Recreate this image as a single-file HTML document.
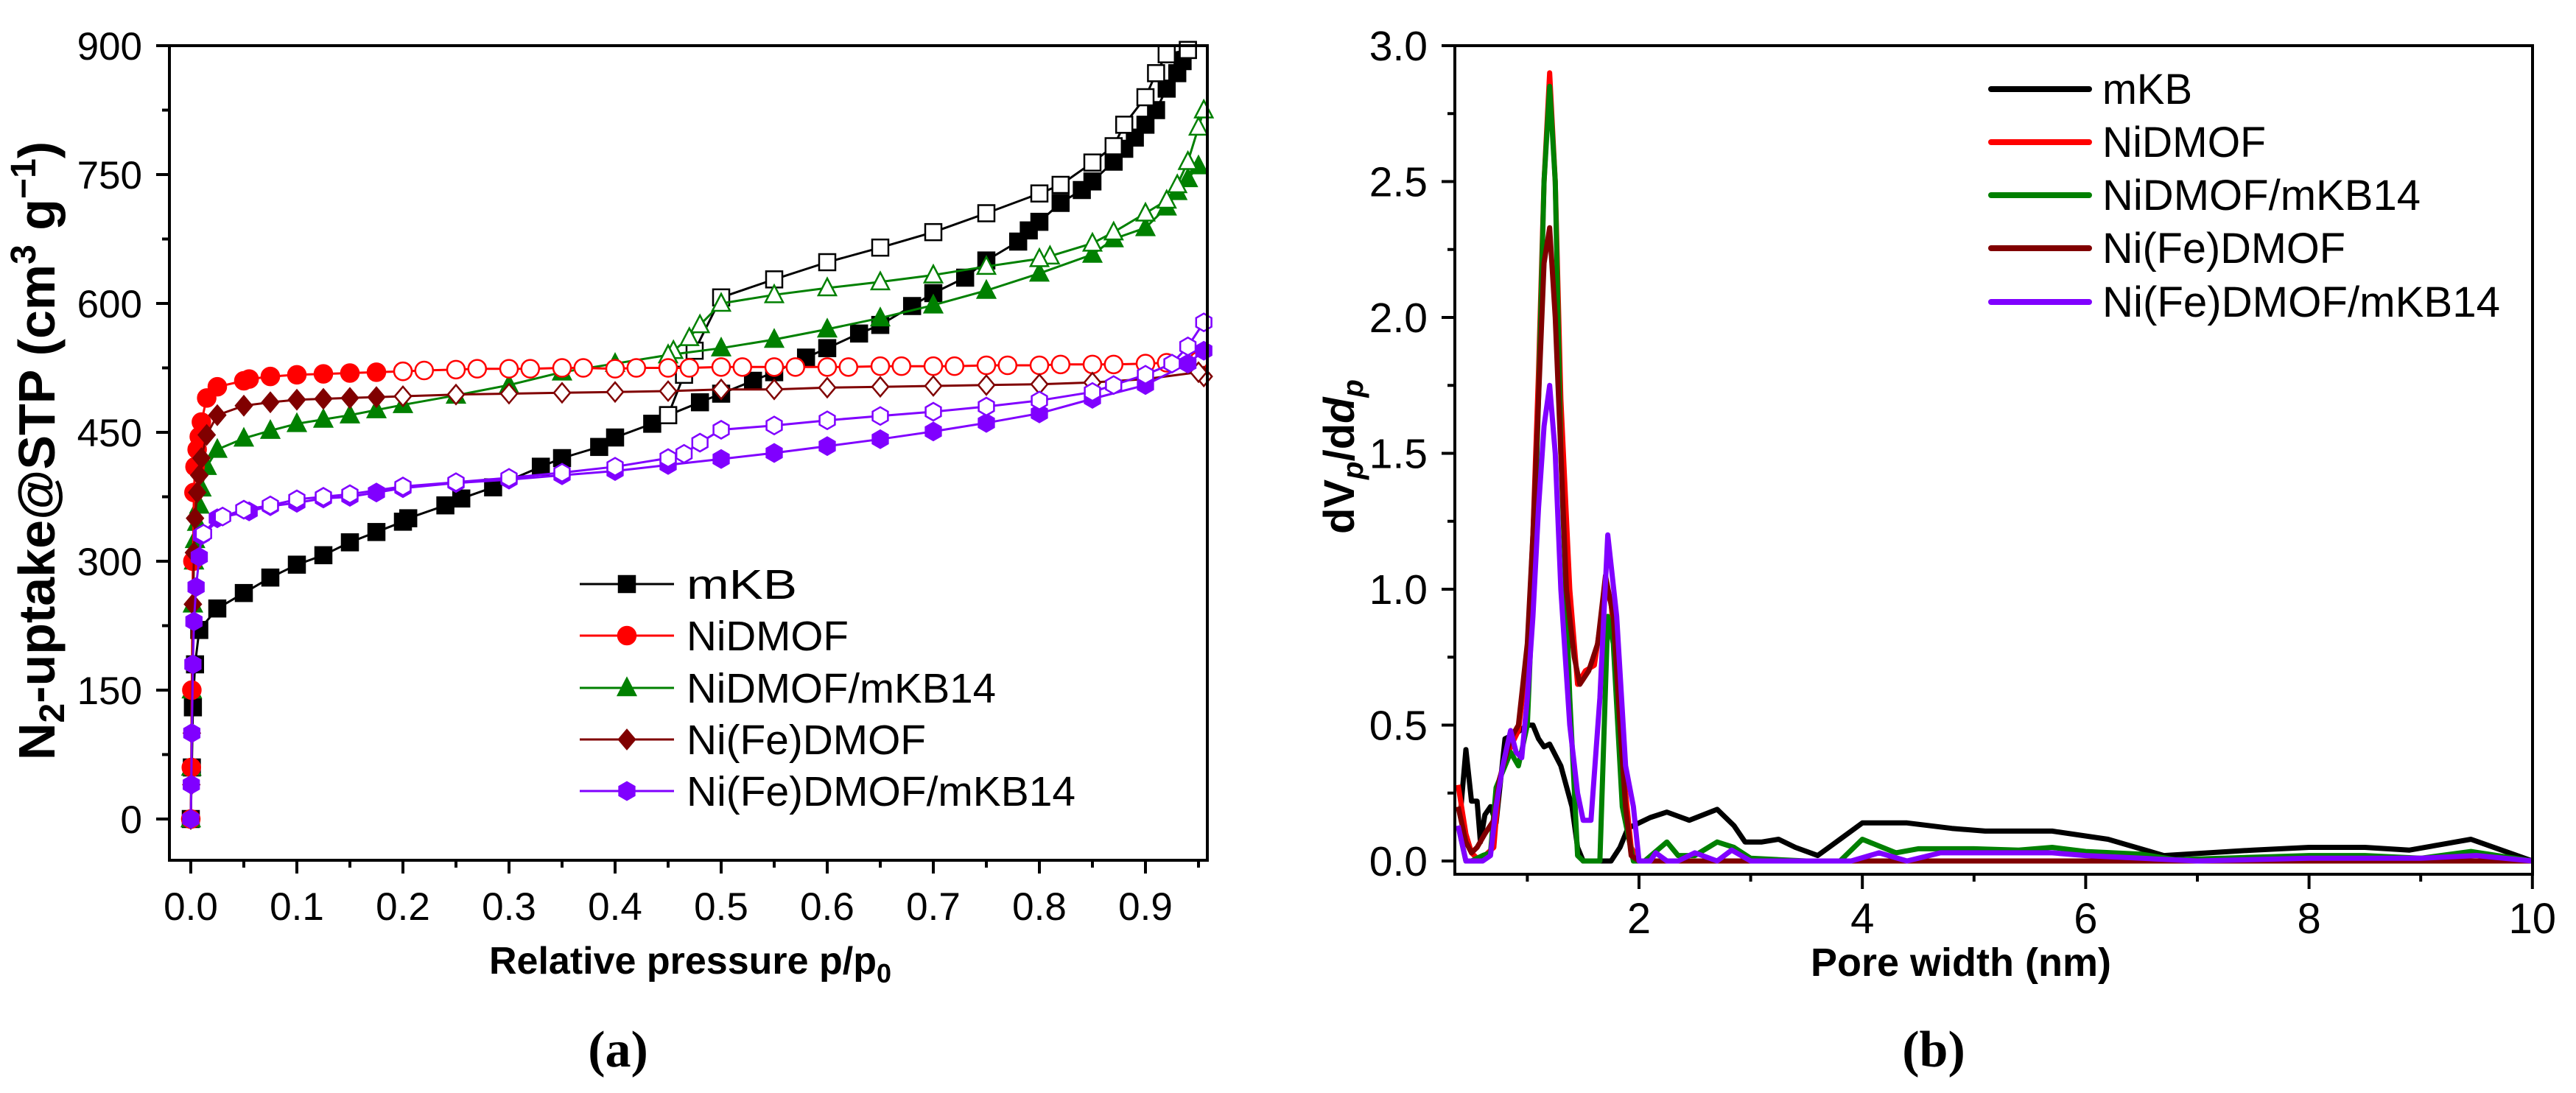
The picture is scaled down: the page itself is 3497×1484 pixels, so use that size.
<!DOCTYPE html>
<html><head><meta charset="utf-8"><style>
html,body{margin:0;padding:0;background:#fff}
svg{display:block}
text{font-family:"Liberation Sans",sans-serif}
</style></head><body>
<svg id="fig" width="3497" height="1484" viewBox="0 0 3497 1484" xmlns="http://www.w3.org/2000/svg">
<g id="pa"></g>
<g id="pb"></g>
<text x="839" y="1448" style="font-family:'Liberation Serif',serif" font-weight="bold" font-size="70" text-anchor="middle">(a)</text>
<text x="2625" y="1448" style="font-family:'Liberation Serif',serif" font-weight="bold" font-size="70" text-anchor="middle">(b)</text>
</svg>
<script>
// ---------- Panel (a) data ----------
const seriesNames = ["mKB","NiDMOF","NiDMOF/mKB14","Ni(Fe)DMOF","Ni(Fe)DMOF/mKB14"];
const seriesColors = ["#000000","#ff0000","#008000","#800000","#8000ff"];
const xTicksA = [0,0.1,0.2,0.3,0.4,0.5,0.6,0.7,0.8,0.9];
const xTickLabelsA = ["0.0","0.1","0.2","0.3","0.4","0.5","0.6","0.7","0.8","0.9"];
const yTicksA = [0,150,300,450,600,750,900];
const yTickLabelsA = ["0","150","300","450","600","750","900"];

const mkbAdsP = [0,0.001,0.002,0.004,0.008,0.025,0.05,0.075,0.1,0.125,0.15,0.175,0.2,0.205,0.24,0.255,0.285,0.33,0.35,0.385,0.4,0.435,0.45,0.48,0.5,0.53,0.55,0.58,0.6,0.63,0.65,0.68,0.7,0.73,0.75,0.78,0.79,0.8,0.82,0.84,0.85,0.87,0.88,0.89,0.9,0.91,0.92,0.93,0.935,0.94];
const mkbAdsV = [0,60,130,180,220,245,263,281,296,307,322,334,346,350,365,373,386,410,420,433,444,460,470,485,495,510,520,537,548,565,575,597,612,630,650,672,685,695,717,732,742,765,780,793,808,825,850,868,882,895];
const mkbDesP = [0.94,0.92,0.91,0.9,0.88,0.87,0.85,0.82,0.8,0.75,0.7,0.65,0.6,0.55,0.5,0.475,0.465,0.45];
const mkbDesV = [895,890,868,840,808,783,764,738,728,705,683,665,648,628,607,545,517,470];

const niAdsP = [0,0.0005,0.001,0.002,0.003,0.004,0.006,0.008,0.01,0.015,0.025,0.05,0.055,0.075,0.1,0.125,0.15,0.175,0.2];
const niAdsV = [0,60,150,300,380,410,430,445,462,490,503,510,512,515,517,518,519,520,521];
const niDesP = [0.95,0.92,0.9,0.87,0.85,0.82,0.8,0.77,0.75,0.72,0.7,0.67,0.65,0.62,0.6,0.57,0.55,0.52,0.5,0.47,0.45,0.42,0.4,0.37,0.35,0.32,0.3,0.27,0.25,0.22,0.2];
const niDesV = [533,531,530,529,529,529,528,528,528,527,527,527,527,526,526,526,526,526,526,525,525,525,524,525,525,524,524,524,523,522,521];

const nimAdsP = [0,0.0005,0.001,0.002,0.003,0.004,0.006,0.008,0.01,0.015,0.025,0.05,0.075,0.1,0.125,0.15,0.175,0.2,0.25,0.3,0.35,0.4,0.45,0.5,0.55,0.6,0.65,0.7,0.75,0.8,0.85,0.87,0.9,0.92,0.93,0.94,0.95];
const nimAdsV = [0,60,150,250,300,325,345,365,385,410,430,443,452,460,465,470,476,482,493,505,520,530,540,548,558,570,583,598,615,635,657,675,688,712,730,745,760];
const nimDesP = [0.955,0.95,0.94,0.93,0.92,0.9,0.87,0.85,0.81,0.8,0.75,0.7,0.65,0.6,0.55,0.5,0.48,0.47,0.455,0.45];
const nimDesV = [825,805,765,738,720,705,683,670,655,652,643,633,625,618,610,600,575,560,545,540];

const nfAdsP = [0,0.0005,0.001,0.002,0.003,0.004,0.006,0.008,0.01,0.015,0.025,0.05,0.075,0.1,0.125,0.15,0.175,0.2];
const nfAdsV = [0,40,100,250,310,350,380,400,420,447,470,481,485,488,489,490,491,492];
const nfDesP = [0.955,0.95,0.9,0.85,0.8,0.75,0.7,0.65,0.6,0.55,0.5,0.45,0.4,0.35,0.3,0.25,0.2];
const nfDesV = [515,520,512,508,506,505,504,503,502,500,500,498,497,496,495,494,492];

const nfmAdsP = [0,0.0005,0.001,0.002,0.003,0.005,0.008,0.01,0.025,0.055,0.075,0.1,0.125,0.15,0.175,0.2,0.25,0.3,0.35,0.4,0.45,0.5,0.55,0.6,0.65,0.7,0.75,0.8,0.85,0.9,0.94,0.955];
const nfmAdsV = [0,40,100,180,230,270,305,330,350,358,364,368,373,375,380,385,391,395,400,405,412,419,426,434,442,451,461,472,489,505,530,545];
const nfmDesP = [0.955,0.94,0.925,0.9,0.87,0.85,0.8,0.75,0.7,0.65,0.6,0.55,0.5,0.48,0.465,0.45,0.4,0.35,0.3,0.25,0.2,0.15,0.125,0.1,0.075,0.05,0.03,0.012];
const nfmDesV = [578,550,530,517,505,497,487,480,474,469,464,458,453,438,425,420,410,403,397,392,387,378,375,372,365,360,352,332];

// ---------- Panel (b) data ----------
const xTicksB = [2,4,6,8,10];
const xTickLabelsB = ["2","4","6","8","10"];
const yTicksB = [0,0.5,1,1.5,2,2.5,3];
const yTickLabelsB = ["0.0","0.5","1.0","1.5","2.0","2.5","3.0"];

const psdMkbX = [0.4,0.45,0.5,0.55,0.58,0.62,0.67,0.72,0.8,0.9,1.0,1.05,1.1,1.15,1.2,1.3,1.4,1.45,1.5,1.6,1.75,1.83,1.9,2.0,2.1,2.25,2.45,2.7,2.85,2.95,3.1,3.25,3.4,3.6,3.8,4.0,4.4,4.8,5.1,5.7,6.2,6.7,7.5,8.0,8.5,8.9,9.45,10];
const psdMkbY = [0.17,0.41,0.22,0.22,0.07,0.17,0.2,0.14,0.45,0.47,0.5,0.5,0.45,0.42,0.43,0.35,0.2,0.05,0.0,0.0,0.0,0.05,0.12,0.14,0.16,0.18,0.15,0.19,0.13,0.07,0.07,0.08,0.05,0.02,0.08,0.14,0.14,0.12,0.11,0.11,0.08,0.02,0.04,0.05,0.05,0.04,0.08,0.0];
const psdNiX = [0.38,0.45,0.5,0.55,0.62,0.7,0.75,0.85,0.92,1.0,1.05,1.1,1.15,1.2,1.25,1.3,1.38,1.45,1.52,1.6,1.7,1.75,1.82,1.88,1.93,2.0,10];
const psdNiY = [0.28,0.1,0.03,0.01,0.02,0.05,0.3,0.42,0.48,0.75,1.2,1.8,2.5,2.9,2.5,1.7,1.0,0.65,0.7,0.72,1.0,0.95,0.6,0.25,0.05,0.0,0.0];
const psdNimX = [0.38,0.45,0.5,0.6,0.67,0.72,0.85,0.92,1.0,1.05,1.1,1.15,1.2,1.25,1.3,1.38,1.45,1.5,1.65,1.72,1.77,1.85,1.95,2.05,2.25,2.35,2.5,2.7,2.85,3.0,3.5,3.8,4.0,4.3,4.5,5.0,5.4,5.7,6.0,6.5,6.8,8.0,8.5,9.0,9.45,10];
const psdNimY = [0.13,0.0,0.0,0.02,0.03,0.27,0.4,0.35,0.5,1.0,1.7,2.5,2.85,2.5,1.5,0.6,0.02,0.0,0.0,0.9,0.8,0.2,0.0,0.0,0.07,0.02,0.02,0.07,0.05,0.01,0.0,0.0,0.08,0.03,0.045,0.045,0.04,0.05,0.035,0.025,0.005,0.02,0.02,0.01,0.035,0.0];
const psdNfX = [0.38,0.45,0.5,0.55,0.62,0.7,0.75,0.85,0.92,1.0,1.05,1.1,1.15,1.2,1.25,1.3,1.35,1.42,1.47,1.55,1.63,1.7,1.77,1.83,1.88,1.93,2.0,10];
const psdNfY = [0.2,0.07,0.03,0.05,0.1,0.15,0.3,0.45,0.5,0.8,1.2,1.7,2.2,2.33,2.0,1.5,1.0,0.75,0.65,0.7,0.8,1.05,0.9,0.5,0.2,0.02,0.0,0.0];
const psdNfmX = [0.38,0.45,0.6,0.67,0.72,0.78,0.85,0.9,0.95,1.0,1.05,1.1,1.15,1.2,1.25,1.3,1.38,1.45,1.5,1.57,1.65,1.72,1.8,1.88,1.95,2.0,2.1,2.15,2.25,2.35,2.5,2.7,2.83,3.0,3.9,4.15,4.4,4.7,5.3,5.7,6.0,6.5,7,8,9,9.5,10];
const psdNfmY = [0.13,0.0,0.0,0.02,0.2,0.35,0.48,0.4,0.38,0.6,0.9,1.3,1.6,1.75,1.5,1.0,0.5,0.25,0.15,0.15,0.6,1.2,0.9,0.35,0.2,0.0,0.0,0.03,0.0,0.0,0.03,0.0,0.04,0.0,0.0,0.03,0.0,0.03,0.03,0.03,0.02,0.01,0.0,0.01,0.01,0.02,0.0];

const NS = "http://www.w3.org/2000/svg";
function mk(parent, tag, attrs){const e=document.createElementNS(NS,tag);for(const k in attrs)e.setAttribute(k,attrs[k]);parent.appendChild(e);return e;}

// ---------- Panel (a) ----------
const A = {left:230,right:1639,top:62,bottom:1168};
const xA = p => 259 + p*1440;
const yA = v => 1112 - v*(1050/900);
const pa = document.getElementById('pa');

function markerA(g, shape, cx, cy, color, filled){
  const r=11; const f = filled?color:'#fff';
  let el;
  if(shape==='sq') el=mk(g,'rect',{x:cx-r,y:cy-r,width:2*r,height:2*r,fill:f,stroke:color,'stroke-width':2.5});
  else if(shape==='ci') el=mk(g,'circle',{cx:cx,cy:cy,r:r+1,fill:f,stroke:color,'stroke-width':2.5});
  else if(shape==='tr') el=mk(g,'polygon',{points:`${cx},${cy-r-2} ${cx+r+1},${cy+r-1} ${cx-r-1},${cy+r-1}`,fill:f,stroke:color,'stroke-width':2.5});
  else if(shape==='di') el=mk(g,'polygon',{points:`${cx},${cy-r-2} ${cx+r},${cy} ${cx},${cy+r+2} ${cx-r},${cy}`,fill:f,stroke:color,'stroke-width':2.5});
  else { let pts=[];for(let i=0;i<6;i++){const a=Math.PI/6+i*Math.PI/3;pts.push((cx+(r+1)*Math.cos(a)).toFixed(1)+','+(cy+(r+1)*Math.sin(a)).toFixed(1));}
    el=mk(g,'polygon',{points:pts.join(' '),fill:f,stroke:color,'stroke-width':2.5}); }
  
  
}
function drawIso(name, ps, vs, color, shape, filled){
  const g=mk(pa,'g',{});
  
  
  const d=ps.map((p,i)=>(i?'L':'M')+xA(p).toFixed(1)+','+yA(vs[i]).toFixed(1)).join(' ');
  const path=mk(g,'path',{d:d,fill:'none',stroke:color,'stroke-width':3});
  
  
  ps.forEach((p,i)=>markerA(g,shape,xA(p),yA(vs[i]),color,filled));
}
drawIso('mkb-adsorption',mkbAdsP,mkbAdsV,seriesColors[0],'sq',true);
drawIso('mkb-desorption',mkbDesP,mkbDesV,seriesColors[0],'sq',false);
drawIso('nidmof-mkb14-adsorption',nimAdsP,nimAdsV,seriesColors[2],'tr',true);
drawIso('nidmof-mkb14-desorption',nimDesP,nimDesV,seriesColors[2],'tr',false);
drawIso('nidmof-adsorption',niAdsP,niAdsV,seriesColors[1],'ci',true);
drawIso('nidmof-desorption',niDesP,niDesV,seriesColors[1],'ci',false);
drawIso('nifedmof-adsorption',nfAdsP,nfAdsV,seriesColors[3],'di',true);
drawIso('nifedmof-desorption',nfDesP,nfDesV,seriesColors[3],'di',false);
drawIso('nifedmof-mkb14-adsorption',nfmAdsP,nfmAdsV,seriesColors[4],'hx',true);
drawIso('nifedmof-mkb14-desorption',nfmDesP,nfmDesV,seriesColors[4],'hx',false);

const fa=mk(pa,'rect',{x:A.left,y:A.top,width:A.right-A.left,height:A.bottom-A.top,fill:'none',stroke:'#000','stroke-width':4});


for(let v=0;v<=900;v+=75){const major=v%150===0;mk(pa,'line',{x1:A.left,x2:A.left-(major?18:10),y1:yA(v),y2:yA(v),stroke:'#000','stroke-width':4});}
for(let i=0;i<=19;i++){const p=i*0.05;const major=i%2===0;mk(pa,'line',{x1:xA(p),x2:xA(p),y1:A.bottom,y2:A.bottom+(major?18:10),stroke:'#000','stroke-width':4});}
yTicksA.forEach((v,i)=>{const t=mk(pa,'text',{x:193,y:yA(v)+19,'font-size':53,'text-anchor':'end'});t.textContent=yTickLabelsA[i];
  
  });
xTicksA.forEach((v,i)=>{const t=mk(pa,'text',{x:xA(v),y:1249,'font-size':53,'text-anchor':'middle'});t.textContent=xTickLabelsA[i];
  
  });

// ---------- Panel (b) ----------
const B = {left:1975,right:3438,top:62,bottom:1187};
const xB = w => 1921.8 + w*151.6;
const yB = v => 1169 - v*369;
const pb = document.getElementById('pb');
const clip=mk(pb,'clipPath',{id:'clipb'});
mk(clip,'rect',{x:B.left,y:B.top,width:B.right-B.left,height:B.bottom-B.top});
function drawPsd(name,xs,ys,color){
  const d=xs.map((x,i)=>(i?'L':'M')+xB(x).toFixed(1)+','+yB(ys[i]).toFixed(1)).join(' ');
  const p=mk(pb,'path',{d:d,fill:'none',stroke:color,'stroke-width':7,'stroke-linejoin':'round','clip-path':'url(#clipb)'});
  
  
}
drawPsd('mkb-psd-line',psdMkbX,psdMkbY,seriesColors[0]);
drawPsd('nidmof-psd-line',psdNiX,psdNiY,seriesColors[1]);
drawPsd('nidmof-mkb14-psd-line',psdNimX,psdNimY,seriesColors[2]);
drawPsd('nifedmof-psd-line',psdNfX,psdNfY,seriesColors[3]);
drawPsd('nifedmof-mkb14-psd-line',psdNfmX,psdNfmY,seriesColors[4]);
const fb=mk(pb,'rect',{x:B.left,y:B.top,width:B.right-B.left,height:B.bottom-B.top,fill:'none',stroke:'#000','stroke-width':4});


for(let i=0;i<=12;i++){const v=i*0.25;const major=i%2===0;mk(pb,'line',{x1:B.left,x2:B.left-(major?18:10),y1:yB(v),y2:yB(v),stroke:'#000','stroke-width':4});}
for(let w=1;w<=10;w++){const major=w%2===0;mk(pb,'line',{x1:xB(w),x2:xB(w),y1:B.bottom,y2:B.bottom+(major?20:10),stroke:'#000','stroke-width':4});}
yTicksB.forEach((v,i)=>{const t=mk(pb,'text',{x:1938,y:yB(v)+20,'font-size':57,'text-anchor':'end'});t.textContent=yTickLabelsB[i];
  
  });
xTicksB.forEach((v,i)=>{const t=mk(pb,'text',{x:xB(v),y:1267,'font-size':58,'text-anchor':'middle'});t.textContent=xTickLabelsB[i];
  
  });

// legends
const legA=mk(pa,'g',{});


const shapesA=['sq','ci','tr','di','hx'];
const legAY=[793,863,934,1004,1074];
const legAW=[150,220,420,325,528];
seriesNames.forEach((n,i)=>{
  mk(legA,'line',{x1:787,x2:915,y1:legAY[i],y2:legAY[i],stroke:seriesColors[i],'stroke-width':3});
  markerA(legA,shapesA[i],851,legAY[i],seriesColors[i],true);
  const t=mk(legA,'text',{x:932,y:legAY[i]+20,'font-size':57,textLength:legAW[i],lengthAdjust:'spacingAndGlyphs'});t.textContent=n;
  
  
});
const legB=mk(pb,'g',{});


const legBY=[121,193,265,337,410];
const legBW=[122,222,432,330,540];
seriesNames.forEach((n,i)=>{
  mk(legB,'line',{x1:2703,x2:2836,y1:legBY[i],y2:legBY[i],stroke:seriesColors[i],'stroke-width':8,'stroke-linecap':'round'});
  const t=mk(legB,'text',{x:2854,y:legBY[i]+20,'font-size':58,textLength:legBW[i],lengthAdjust:'spacingAndGlyphs'});t.textContent=n;
  
  
});

// axis titles
(function(){
const svg=document.getElementById('fig');
function add(html){const g=document.createElementNS(NS,'g');g.innerHTML=html;svg.appendChild(g);}
add('<text x="937" y="1322" font-size="52" font-weight="bold" text-anchor="middle">Relative pressure p/p<tspan font-size="36" dy="12">0</tspan></text>');
add('<text transform="translate(74,612) rotate(-90)" font-size="70" font-weight="bold" text-anchor="middle">N<tspan font-size="48" dy="13">2</tspan><tspan dy="-13">-uptake@STP (cm</tspan><tspan font-size="48" dy="-26">3</tspan><tspan dy="26"> g</tspan><tspan font-size="48" dy="-26">−1</tspan><tspan dy="26">)</tspan></text>');
add('<text x="2662" y="1325" font-size="54" font-weight="bold" text-anchor="middle">Pore width (nm)</text>');
add('<text transform="translate(1838,620) rotate(-90)" font-size="58" font-weight="bold" text-anchor="middle">dV<tspan font-size="40" dy="12" font-style="italic">p</tspan><tspan dy="-12">/d</tspan><tspan font-style="italic">d</tspan><tspan font-size="40" dy="12" font-style="italic">p</tspan></text>');
})();
</script>
</body></html>
